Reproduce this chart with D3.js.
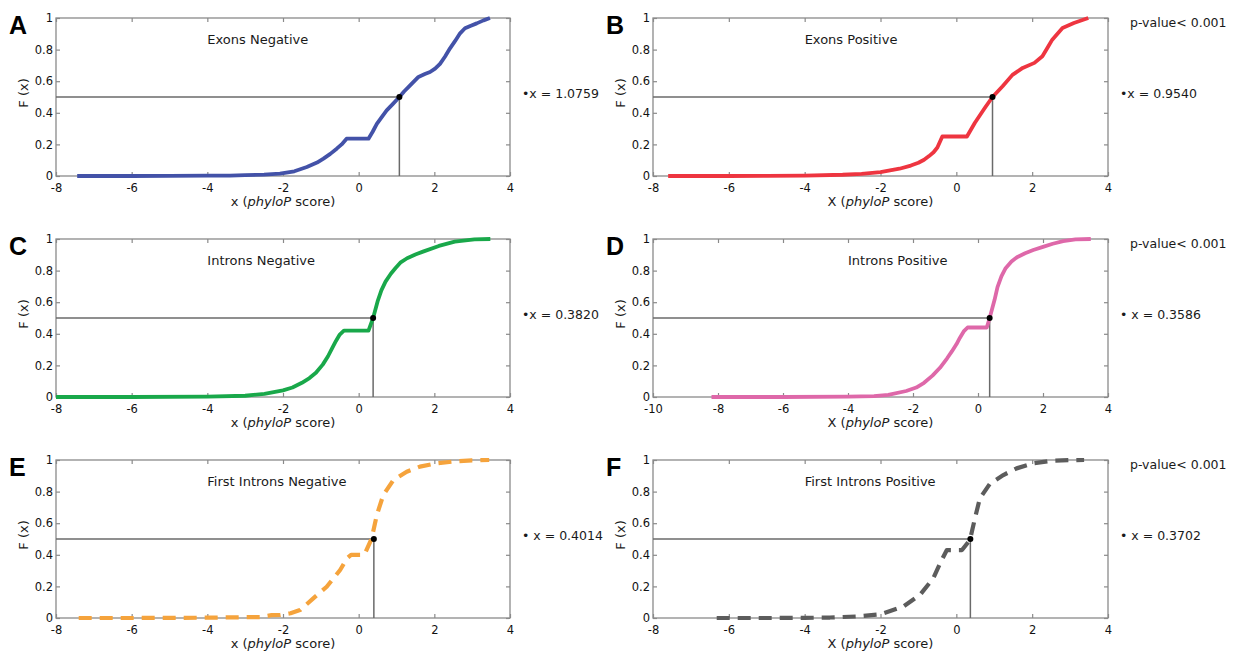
<!DOCTYPE html>
<html>
<head>
<meta charset="utf-8">
<script src="https://cdn.jsdelivr.net/npm/d3@7/dist/d3.min.js"></script>
<style>
  html, body { margin: 0; padding: 0; background: #fff; }
  svg { display: block; }
  text { font-family: "DejaVu Sans", Verdana, sans-serif; }
</style>
</head>
<body>
<svg id="chart" width="1233" height="656"></svg>
<script>
// ---------- DATA ----------
const xTicksStd = [-8, -6, -4, -2, 0, 2, 4];
const xTicksWide = [-10, -8, -6, -4, -2, 0, 2, 4];
const yTicks = [0, 0.2, 0.4, 0.6, 0.8, 1];
const yTickLabels = ["0", "0.2", "0.4", "0.6", "0.8", "1"];

const panelLetters = ["A", "B", "C", "D", "E", "F"];
const panelTitles = ["Exons Negative", "Exons Positive", "Introns Negative", "Introns Positive", "First Introns Negative", "First Introns Positive"];
const medians = [1.0759, 0.9540, 0.3820, 0.3586, 0.4014, 0.3702];
const medianLabels = ["\u2022x = 1.0759", "\u2022x = 0.9540", "\u2022x = 0.3820", "\u2022 x = 0.3586", "\u2022 x = 0.4014", "\u2022 x = 0.3702"];
const pValueText = "p-value< 0.001";

// Exons Negative (A)
const exonsNegX = [-7.44, -6, -5, -4, -3.4, -3, -2.5, -2.08, -1.7, -1.37, -1.1, -0.93, -0.75, -0.58, -0.45, -0.32, 0.26, 0.37, 0.48, 0.6, 0.74, 0.9, 1.0759, 1.2, 1.36, 1.58, 1.75, 1.886, 2.02, 2.15, 2.28, 2.415, 2.55, 2.68, 2.81, 2.95, 3.12, 3.3, 3.47];
const exonsNegF = [0, 0, 0.001, 0.002, 0.003, 0.005, 0.009, 0.015, 0.03, 0.057, 0.085, 0.11, 0.14, 0.173, 0.2, 0.236, 0.236, 0.28, 0.33, 0.37, 0.415, 0.455, 0.5, 0.535, 0.574, 0.627, 0.645, 0.658, 0.68, 0.71, 0.755, 0.808, 0.855, 0.903, 0.935, 0.95, 0.966, 0.985, 1.0];
// Exons Positive (B)
const exonsPosX = [-7.6, -6, -5, -4, -3, -2.5, -2.0, -1.5, -1.2, -1.0, -0.85, -0.72, -0.6, -0.5, -0.37, 0.28, 0.49, 0.75, 0.954, 1.22, 1.48, 1.75, 2.06, 2.27, 2.4, 2.53, 2.8, 3.1, 3.48];
const exonsPosF = [0, 0, 0.001, 0.003, 0.008, 0.014, 0.025, 0.046, 0.066, 0.084, 0.103, 0.126, 0.15, 0.18, 0.25, 0.25, 0.337, 0.43, 0.5, 0.568, 0.64, 0.684, 0.716, 0.758, 0.81, 0.863, 0.937, 0.968, 1.0];
// Introns Negative (C)
const intronsNegX = [-8, -6, -4, -3, -2.49, -2.0, -1.75, -1.5, -1.3, -1.13, -0.95, -0.81, -0.7, -0.6, -0.5, -0.39, 0.26, 0.382, 0.5, 0.6, 0.71, 0.85, 0.97, 1.1, 1.28, 1.5, 1.7, 2.12, 2.54, 3.06, 3.48];
const intronsNegF = [0, 0, 0.002, 0.008, 0.02, 0.042, 0.06, 0.09, 0.12, 0.153, 0.205, 0.258, 0.31, 0.355, 0.395, 0.42, 0.42, 0.5, 0.605, 0.675, 0.73, 0.78, 0.815, 0.85, 0.878, 0.902, 0.92, 0.956, 0.983, 0.998, 1.0];
// Introns Positive (D)
const intronsPosX = [-8.2, -6, -4, -3.2, -2.76, -2.21, -1.9, -1.66, -1.4, -1.17, -0.95, -0.8, -0.66, -0.56, -0.44, -0.32, 0.27, 0.3586, 0.51, 0.6, 0.72, 0.85, 1.03, 1.2, 1.45, 1.7, 2.0, 2.3, 2.62, 3.0, 3.47];
const intronsPosF = [0, 0, 0.002, 0.006, 0.013, 0.038, 0.06, 0.09, 0.135, 0.185, 0.245, 0.29, 0.335, 0.374, 0.415, 0.44, 0.44, 0.5, 0.615, 0.695, 0.763, 0.815, 0.857, 0.885, 0.91, 0.93, 0.95, 0.97, 0.987, 0.997, 1.0];
// First Introns Negative (E)
const firstNegX = [-7.4, -6, -4, -3.4, -2.6, -2.3, -2.08, -1.8, -1.55, -1.2, -0.845, -0.49, -0.3, -0.2, 0.15, 0.345, 0.478, 0.65, 0.917, 1.27, 1.62, 2.06, 2.5, 3.0, 3.45];
const firstNegF = [0, 0, 0.002, 0.004, 0.006, 0.018, 0.019, 0.03, 0.05, 0.124, 0.198, 0.304, 0.38, 0.4, 0.4, 0.504, 0.65, 0.778, 0.873, 0.926, 0.958, 0.979, 0.99, 0.998, 1.0];
// First Introns Positive (F)
const firstPosX = [-6.32, -5, -4, -3.33, -2.6, -2.01, -1.4, -0.96, -0.61, -0.4, -0.25, 0.15, 0.36, 0.49, 0.62, 0.887, 1.24, 1.59, 2.03, 2.5, 3.0, 3.37];
const firstPosF = [0, 0, 0.001, 0.003, 0.01, 0.023, 0.072, 0.146, 0.251, 0.36, 0.43, 0.43, 0.494, 0.63, 0.757, 0.85, 0.905, 0.947, 0.979, 0.995, 0.999, 1.0];

const seriesX = [exonsNegX, exonsPosX, intronsNegX, intronsPosX, firstNegX, firstPosX];
const seriesF = [exonsNegF, exonsPosF, intronsNegF, intronsPosF, firstNegF, firstPosF];
const colors = ["#4352a8", "#ee3540", "#19a84a", "#de68a9", "#f5a33c", "#5c5c5c"];
const dashed = [false, false, false, false, true, true];
const xDomains = [[-8, 4], [-8, 4], [-8, 4], [-10, 4], [-8, 4], [-8, 4]];
const xTickSets = [xTicksStd, xTicksStd, xTicksStd, xTicksWide, xTicksStd, xTicksStd];
const xLabelLead = ["x", "X", "x", "X", "x", "X"];

// ---------- LAYOUT ----------
const colLeft = [56, 653];
const plotW = [454, 455];
const rowTop = [18, 239, 460];
const plotH = 158;

const svg = d3.select("#chart");
svg.append("rect").attr("width", 1233).attr("height", 656).attr("fill", "#fff");

panelLetters.forEach((letter, i) => {
  const col = i % 2, row = Math.floor(i / 2);
  const x0 = colLeft[col], w = plotW[col], top = rowTop[row];
  const x = d3.scaleLinear().domain(xDomains[i]).range([x0, x0 + w]);
  const y = d3.scaleLinear().domain([0, 1]).range([top + plotH, top]);
  const g = svg.append("g");

  // box
  g.append("rect").attr("x", x0).attr("y", top).attr("width", w).attr("height", plotH)
    .attr("fill", "none").attr("stroke", "#8a8a8a").attr("stroke-width", 1.3);

  const styleAxis = sel => {
    sel.select(".domain").remove();
    sel.selectAll(".tick line").attr("stroke", "#8a8a8a").attr("stroke-width", 1.2);
    sel.selectAll(".tick text").attr("fill", "#111").style("font-size", "11.5px")
      .style("font-family", '"DejaVu Sans", Verdana, sans-serif');
  };

  g.append("g").attr("transform", `translate(0,${top + plotH})`)
    .call(d3.axisBottom(x).tickValues(xTickSets[i]).tickFormat(d => String(d)).tickSizeInner(-4).tickSizeOuter(0).tickPadding(8))
    .call(styleAxis);
  g.append("g").attr("transform", `translate(0,${top})`)
    .call(d3.axisTop(x).tickValues(xTickSets[i]).tickFormat("").tickSizeInner(-4).tickSizeOuter(0))
    .call(styleAxis);
  g.append("g").attr("transform", `translate(${x0},0)`)
    .call(d3.axisLeft(y).tickValues(yTicks).tickFormat((d, k) => yTickLabels[k]).tickSizeInner(-4).tickSizeOuter(0).tickPadding(3))
    .call(styleAxis);
  g.append("g").attr("transform", `translate(${x0 + w},0)`)
    .call(d3.axisRight(y).tickValues(yTicks).tickFormat("").tickSizeInner(-4).tickSizeOuter(0))
    .call(styleAxis);

  // median reference lines
  const m = medians[i];
  g.append("line").attr("x1", x(xDomains[i][0])).attr("x2", x(m)).attr("y1", y(0.5)).attr("y2", y(0.5))
    .attr("stroke", "#6a6a6a").attr("stroke-width", 1.5);
  g.append("line").attr("x1", x(m)).attr("x2", x(m)).attr("y1", y(0)).attr("y2", y(0.5))
    .attr("stroke", "#6a6a6a").attr("stroke-width", 1.5);

  // curve
  const pts = seriesX[i].map((v, k) => [v, seriesF[i][k]]);
  const line = d3.line().x(d => x(d[0])).y(d => y(d[1])).curve(d3.curveLinear);
  g.append("path").datum(pts).attr("d", line)
    .attr("fill", "none").attr("stroke", colors[i]).attr("stroke-width", dashed[i] ? 4.2 : 3.8)
    .attr("stroke-linejoin", "round")
    .attr("stroke-dasharray", dashed[i] ? "13,8" : null);

  // median dot
  g.append("circle").attr("cx", x(m)).attr("cy", y(0.5)).attr("r", 3).attr("fill", "#000");

  // title
  g.append("text").attr("x", x(-4)).attr("y", top + 22).attr("dominant-baseline", "middle")
    .attr("fill", "#1a1a1a").style("font-size", "13px").text(panelTitles[i]);

  // axis labels
  const xl = g.append("text").attr("x", x0 + w / 2).attr("y", top + plotH + 30)
    .attr("text-anchor", "middle").attr("fill", "#1a1a1a").style("font-size", "13px");
  xl.append("tspan").text(xLabelLead[i] + " (");
  xl.append("tspan").style("font-style", "italic").text("phyloP");
  xl.append("tspan").text(" score)");

  g.append("text").attr("transform", `translate(${x0 - 28},${top + plotH / 2 - 4}) rotate(-90)`)
    .attr("text-anchor", "middle").attr("fill", "#1a1a1a").style("font-size", "13px").text("F (x)");

  // panel letter
  g.append("text").attr("x", x0 - 47).attr("y", top + 16)
    .style("font-family", '"Liberation Sans", Arial, sans-serif').style("font-weight", "bold")
    .style("font-size", "25px").attr("fill", "#000").text(letter);

  // median annotation
  g.append("text").attr("x", x0 + w + 12).attr("y", y(0.5) - 3).attr("dominant-baseline", "middle")
    .attr("fill", "#1a1a1a").style("font-size", "12.5px").text(medianLabels[i]);

  if (col === 1) {
    g.append("text").attr("x", x0 + w + 22).attr("y", top + 5).attr("dominant-baseline", "middle")
      .attr("fill", "#1a1a1a").style("font-size", "12.5px").text(pValueText);
  }
});
</script>
</body>
</html>
